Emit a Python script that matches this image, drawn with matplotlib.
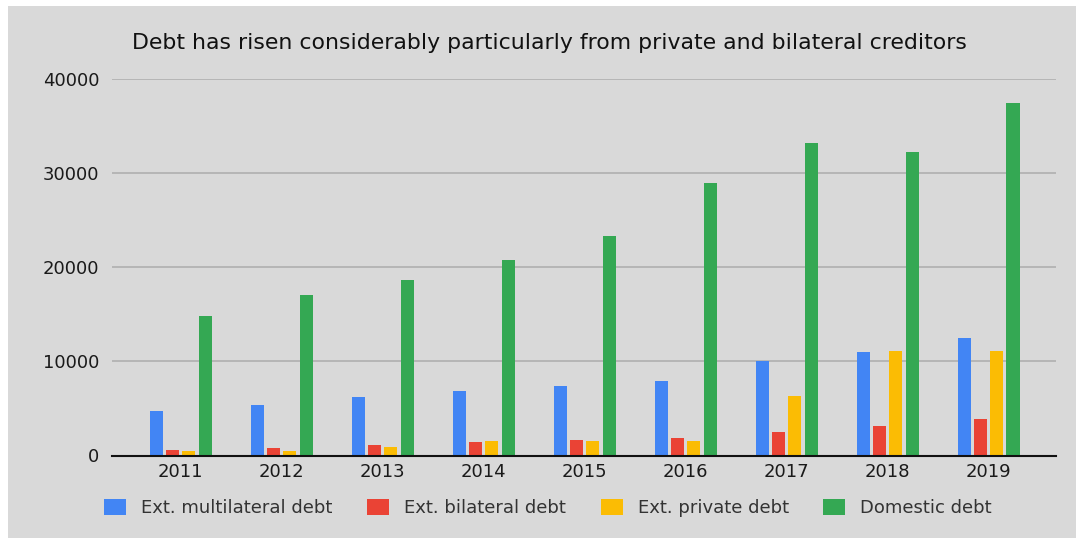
import matplotlib
matplotlib.use("Agg")
import matplotlib.pyplot as plt
from matplotlib.patches import Patch, Rectangle
import numpy as np

years = ["2011", "2012", "2013", "2014", "2015", "2016", "2017", "2018", "2019"]
multilateral = [4750, 5400, 6200, 6800, 7400, 7900, 10050, 11000, 12500]
bilateral = [600, 750, 1100, 1390, 1670, 1850, 2450, 3130, 3870]
private = [460, 450, 920, 1530, 1530, 1530, 6330, 11130, 11130]
domestic = [14780, 17090, 18620, 20790, 23270, 28950, 33170, 32250, 37470]

series_names = ["Ext. multilateral debt", "Ext. bilateral debt", "Ext. private debt", "Domestic debt"]
series_vals = [multilateral, bilateral, private, domestic]
colors = ["#4285F4", "#EA4335", "#FBBC04", "#34A853"]
yticks = [0, 10000, 20000, 30000, 40000]

plt.rcParams['font.family'] = ['DejaVu Sans']

W, H = 1076, 538
fig = plt.figure(figsize=(W / 100, H / 100), dpi=100, facecolor="white")
fig.patches.append(Rectangle((8 / W, 0), 1 - 8 / W, 1 - 6 / H, transform=fig.transFigure,
                             facecolor="#d9d9d9", edgecolor="none", zorder=-10))

left, right = 112 / W, 1055.7 / W
bottom, top = 1 - 455.5 / H, 1 - 79 / H
ax = fig.add_axes([left, bottom, right - left, top - bottom])
ax.set_facecolor("none")

x = np.arange(len(years))
pitch = 0.1614
width = 0.129
for i, (vals, c, name) in enumerate(zip(series_vals, colors, series_names)):
    ax.bar(x + (i - 1.5) * pitch, vals, width=width, color=c, label=name, zorder=3)

ax.set_xlim(-0.681, 8.665)
ax.set_ylim(0, 40000)
ax.set_yticks(yticks)
ax.set_yticklabels([str(v) for v in yticks])
ax.set_xticks(x)
ax.set_xticklabels(years)
ax.yaxis.grid(True, color="#b3b3b3", linewidth=1.3, zorder=1)
ax.set_axisbelow(True)
for s in ["left", "right", "top"]:
    ax.spines[s].set_visible(False)
ax.spines["bottom"].set_color("#111111")
ax.spines["bottom"].set_linewidth(1.5)
ax.spines["bottom"].set_zorder(4)
ax.tick_params(axis="both", length=0, labelsize=13, colors="#1a1a1a")
ax.tick_params(axis="y", pad=9)
ax.tick_params(axis="x", pad=5.5)

fig.text(549 / W, 1 - 43 / H, "Debt has risen considerably particularly from private and bilateral creditors",
         ha="center", va="center", fontsize=15.8, color="#111111")

handles = [Patch(facecolor=c, edgecolor="none", label=n) for c, n in zip(colors, series_names)]
leg = fig.legend(handles=handles, loc="center", bbox_to_anchor=(548 / W, 1 - 508 / H), ncol=4,
                 frameon=False, fontsize=13, handlelength=1.21, handleheight=0.94,
                 handletextpad=0.83, columnspacing=1.93, borderpad=0)
for t in leg.get_texts():
    t.set_color("#333333")

fig.savefig("out.png", dpi=100, facecolor=fig.get_facecolor())
